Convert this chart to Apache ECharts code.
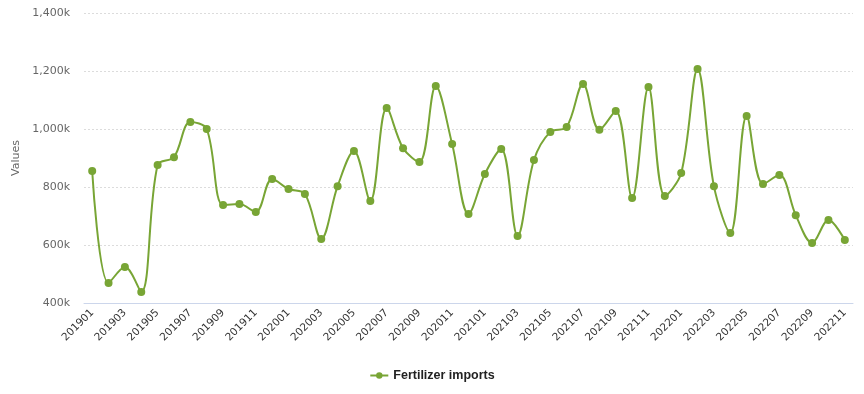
<!DOCTYPE html>
<html>
<head>
<meta charset="utf-8">
<script src="https://cdn.jsdelivr.net/npm/echarts@6/dist/echarts.min.js"></script>
<style>html,body{margin:0;padding:0;background:#fff}#c{width:864px;height:394px}</style>
</head>
<body>
<div id="c"></div>
<script>
const categories = ["201901","201902","201903","201904","201905","201906","201907","201908","201909","201910","201911","201912",
"202001","202002","202003","202004","202005","202006","202007","202008","202009","202010","202011","202012",
"202101","202102","202103","202104","202105","202106","202107","202108","202109","202110","202111","202112",
"202201","202202","202203","202204","202205","202206","202207","202208","202209","202210","202211"];
const fertilizerImports = [855000,469000,524000,438000,876000,903000,1024000,1000000,738000,741000,714000,828000,
793000,776000,621000,803000,924000,752000,1072000,934000,886000,1148000,948000,707000,
845000,931000,631000,893000,990000,1007000,1155000,997000,1062000,762000,1145000,769000,
848000,1207000,803000,641000,1045000,810000,841000,703000,607000,686000,617000];
const yTicks = [400000,600000,800000,1000000,1200000,1400000];

const chart = echarts.init(document.getElementById('c'));
chart.setOption({
  animation:false,
  backgroundColor:'#ffffff',
  grid:{left:84,right:11,top:13,bottom:91,containLabel:false},
  legend:{bottom:7,left:'center',itemWidth:18,itemHeight:8,itemGap:6,
    textStyle:{color:'#222',fontSize:12.5,fontWeight:'bold',fontFamily:'Liberation Sans'},
    data:['Fertilizer imports']},
  xAxis:{type:'category',data:categories,boundaryGap:true,
    axisLine:{lineStyle:{color:'#ccd6eb'}},axisTick:{show:false},
    axisLabel:{interval:1,rotate:45,color:'#333',fontSize:10.5,fontFamily:'DejaVu Sans',margin:8}},
  yAxis:{type:'value',min:yTicks[0],max:yTicks[yTicks.length-1],interval:200000,
    name:'Values',nameLocation:'middle',nameGap:62,nameRotate:90,
    nameTextStyle:{color:'#666',fontSize:11,fontFamily:'DejaVu Sans'},
    axisLine:{show:false},axisTick:{show:false},
    splitLine:{lineStyle:{color:'#dcdcdc',type:[2,2]}},
    axisLabel:{color:'#666',fontSize:11,fontFamily:'DejaVu Sans',margin:14,
      formatter:v=>(v/1000).toLocaleString('en-US')+'k'}},
  series:[{name:'Fertilizer imports',type:'line',data:fertilizerImports,smooth:0.35,
    symbol:'circle',symbolSize:8,
    lineStyle:{color:'#78a535',width:2},
    itemStyle:{color:'#78a535'}}]
});
</script>
</body>
</html>
